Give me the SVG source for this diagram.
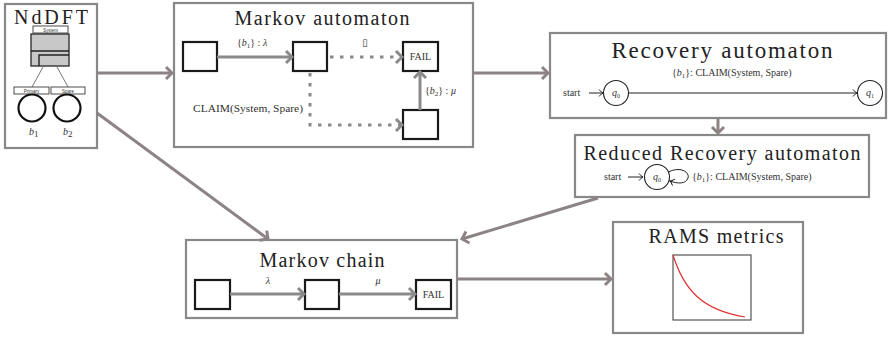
<svg xmlns="http://www.w3.org/2000/svg" width="892" height="338" viewBox="0 0 892 338">
  <style>
    .frame { fill: #fff; stroke: #888; stroke-width: 2.2; }
    .state { fill: #fff; stroke: #1a1a1a; stroke-width: 2.2; }
    .title { font-family: "Liberation Serif", "DejaVu Serif", serif; fill: #222; text-anchor: middle; }
    .lbl { font-family: "Liberation Serif", "DejaVu Serif", serif; fill: #333; font-size: 10px; }
    .flow { fill: none; stroke: #8c8484; stroke-width: 3; }
    .edge { fill: none; stroke: #8a8a8a; stroke-width: 3; }
    .dots { fill: none; stroke: #8a8a8a; stroke-width: 3; stroke-dasharray: 3.5 6.5; }
    .thin { fill: none; stroke: #222; stroke-width: 1; }
    .circ { fill: #fff; stroke: #222; stroke-width: 1.1; }
    .tiny { font-family: "Liberation Sans", sans-serif; font-size: 4.5px; fill: #333; text-anchor: middle; }
  </style>
  <defs>
    <marker id="headFlow" viewBox="-8 -8 10 16" markerWidth="10" markerHeight="16" refX="0" refY="0" orient="auto" markerUnits="userSpaceOnUse">
      <path d="M-6,-6 L0,0 L-6,6" fill="none" stroke="#8c8484" stroke-width="3"/>
    </marker>
    <marker id="headEdge" viewBox="-8 -8 10 16" markerWidth="10" markerHeight="16" refX="0" refY="0" orient="auto" markerUnits="userSpaceOnUse">
      <path d="M-6,-6 L0,0 L-6,6" fill="none" stroke="#8a8a8a" stroke-width="3"/>
    </marker>
    <marker id="headThin" viewBox="-6 -5 7 10" markerWidth="7" markerHeight="10" refX="0" refY="0" orient="auto" markerUnits="userSpaceOnUse">
      <path d="M-4,-3.5 Q-1.5,-0.5 0,0 Q-1.5,0.5 -4,3.5" fill="none" stroke="#222" stroke-width="1"/>
    </marker>
  </defs>

  <!-- NdDFT: fault tree with a spare gate -->
  <g id="nddft">
    <rect class="frame" x="5" y="4" width="92" height="144"/>
    <text class="title" x="51" y="23.5" font-size="20" textLength="74" lengthAdjust="spacing">NdDFT</text>
    <rect x="33" y="26" width="35" height="7" fill="#fff" stroke="#222" stroke-width="0.8"/>
    <text class="tiny" x="50.5" y="31.5">System</text>
    <rect x="31" y="34" width="38" height="32" fill="#c8c8c8" stroke="#333" stroke-width="1.4"/>
    <path d="M31,51 H69 M39,66 V55 H69" fill="none" stroke="#222" stroke-width="1.4"/>
    <path d="M43,67 L32,87 M57,67 L68,87" fill="none" stroke="#777" stroke-width="1"/>
    <rect x="14" y="87" width="35" height="7" fill="#fff" stroke="#222" stroke-width="0.8"/>
    <text class="tiny" x="31.5" y="92.5">Primary</text>
    <rect x="51" y="87" width="34" height="7" fill="#fff" stroke="#222" stroke-width="0.8"/>
    <text class="tiny" x="68" y="92.5">Spare</text>
    <circle cx="32" cy="108" r="13.5" fill="#fff" stroke="#111" stroke-width="2.2"/>
    <circle cx="67" cy="108" r="13.5" fill="#fff" stroke="#111" stroke-width="2.2"/>
    <text class="lbl" x="29" y="135" font-size="13" font-style="italic">b<tspan font-size="9" font-style="normal" dy="2">1</tspan></text>
    <text class="lbl" x="63" y="135" font-size="13" font-style="italic">b<tspan font-size="9" font-style="normal" dy="2">2</tspan></text>
  </g>

  <!-- Markov automaton -->
  <g id="markov-automaton">
    <rect class="frame" x="174" y="3" width="299" height="144"/>
    <text class="title" x="322" y="25" font-size="20" textLength="175" lengthAdjust="spacing">Markov automaton</text>
    <rect class="state" x="183" y="42" width="34" height="29"/>
    <rect class="state" x="293" y="42" width="34" height="29"/>
    <rect class="state" x="403" y="42" width="35" height="29"/>
    <text class="lbl" x="420.5" y="60" font-size="9" text-anchor="middle">FAIL</text>
    <rect class="state" x="403" y="110" width="35" height="29"/>
    <line class="edge" x1="217" y1="57" x2="292" y2="57" marker-end="url(#headEdge)"/>
    <line class="dots" x1="330" y1="57" x2="402" y2="57" marker-end="url(#headEdge)"/>
    <polyline class="dots" points="310,73 310,125 402,125" marker-end="url(#headEdge)"/>
    <line class="edge" x1="420" y1="110" x2="420" y2="72" marker-end="url(#headEdge)"/>
    <text class="lbl" x="237" y="46">{<tspan font-style="italic">b</tspan><tspan font-size="7" dy="2">1</tspan><tspan dy="-2">} : </tspan><tspan font-style="italic">λ</tspan></text>
    <text class="lbl" x="365" y="46" font-size="10" text-anchor="middle">▯</text>
    <text class="lbl" x="303" y="112" text-anchor="end" textLength="110" lengthAdjust="spacingAndGlyphs">CLAIM(System, Spare)</text>
    <text class="lbl" x="425" y="94">{<tspan font-style="italic">b</tspan><tspan font-size="7" dy="2">2</tspan><tspan dy="-2">} : </tspan><tspan font-style="italic">μ</tspan></text>
  </g>

  <!-- Recovery automaton -->
  <g id="recovery-automaton">
    <rect class="frame" x="550" y="33" width="336" height="85"/>
    <text class="title" x="722" y="58" font-size="23" textLength="221" lengthAdjust="spacing">Recovery automaton</text>
    <text class="lbl" x="563" y="96" font-size="9.5">start</text>
    <line class="thin" x1="589" y1="93" x2="603" y2="93" marker-end="url(#headThin)"/>
    <circle class="circ" cx="616" cy="93" r="12.5"/>
    <text class="lbl" x="616" y="96" font-size="9" font-style="italic" text-anchor="middle">q<tspan font-size="6" font-style="normal" dy="1.5">0</tspan></text>
    <line class="thin" x1="628.5" y1="93" x2="857" y2="93" marker-end="url(#headThin)"/>
    <circle class="circ" cx="870" cy="93" r="12.5"/>
    <text class="lbl" x="870" y="96" font-size="9" font-style="italic" text-anchor="middle">q<tspan font-size="6" font-style="normal" dy="1.5">1</tspan></text>
    <text class="lbl" x="672" y="76" font-size="10.5">{<tspan font-style="italic">b</tspan><tspan font-size="7" dy="2">1</tspan><tspan dy="-2">}: CLAIM(System, Spare)</tspan></text>
  </g>

  <!-- Reduced Recovery automaton -->
  <g id="reduced-recovery-automaton">
    <rect class="frame" x="575" y="135" width="294" height="62"/>
    <text class="title" x="722" y="160" font-size="20" textLength="277" lengthAdjust="spacing">Reduced Recovery automaton</text>
    <text class="lbl" x="604" y="180" font-size="9">start</text>
    <line class="thin" x1="628" y1="177" x2="643" y2="177" marker-end="url(#headThin)"/>
    <circle class="circ" cx="657" cy="177" r="12.5"/>
    <text class="lbl" x="657" y="180" font-size="9" font-style="italic" text-anchor="middle">q<tspan font-size="6" font-style="normal" dy="1.5">0</tspan></text>
    <path class="thin" d="M668.5,172 C680,166 690,172 688,178 C686,184 678,184 670,181" marker-end="url(#headThin)"/>
    <text class="lbl" x="692" y="180">{<tspan font-style="italic">b</tspan><tspan font-size="7" dy="2">1</tspan><tspan dy="-2">}: CLAIM(System, Spare)</tspan></text>
  </g>

  <!-- Markov chain -->
  <g id="markov-chain">
    <rect class="frame" x="186" y="240" width="271" height="78"/>
    <text class="title" x="322" y="267" font-size="20" textLength="125" lengthAdjust="spacing">Markov chain</text>
    <rect class="state" x="195" y="280" width="35" height="29"/>
    <rect class="state" x="305" y="280" width="34" height="29"/>
    <rect class="state" x="416" y="280" width="35" height="29"/>
    <text class="lbl" x="433.5" y="298" font-size="9" text-anchor="middle">FAIL</text>
    <line class="edge" x1="230" y1="294" x2="304" y2="294" marker-end="url(#headEdge)"/>
    <line class="edge" x1="339" y1="294" x2="415" y2="294" marker-end="url(#headEdge)"/>
    <text class="lbl" x="268" y="284" font-style="italic" text-anchor="middle">λ</text>
    <text class="lbl" x="378" y="284" font-style="italic" text-anchor="middle">μ</text>
  </g>

  <!-- RAMS metrics -->
  <g id="rams-metrics">
    <rect class="frame" x="613" y="222" width="190" height="111"/>
    <text class="title" x="716" y="243" font-size="20" textLength="135" lengthAdjust="spacing">RAMS metrics</text>
    <rect x="673" y="255" width="78" height="65" fill="#fff" stroke="#333" stroke-width="1"/>
    <path d="M673,255 C684,290 702,310 745,317" fill="none" stroke="#e03030" stroke-width="1.2"/>
  </g>

  <!-- Pipeline connectors -->
  <g id="connectors">
    <line class="flow" x1="97" y1="73" x2="172" y2="73" marker-end="url(#headFlow)"/>
    <line class="flow" x1="473" y1="73" x2="548" y2="73" marker-end="url(#headFlow)"/>
    <line class="flow" x1="718" y1="118" x2="718" y2="133" marker-end="url(#headFlow)"/>
    <line class="flow" x1="97" y1="113" x2="268" y2="239" marker-end="url(#headFlow)"/>
    <line class="flow" x1="598" y1="198" x2="462" y2="239" marker-end="url(#headFlow)"/>
    <line class="flow" x1="457" y1="279" x2="611" y2="279" marker-end="url(#headFlow)"/>
  </g>
</svg>
